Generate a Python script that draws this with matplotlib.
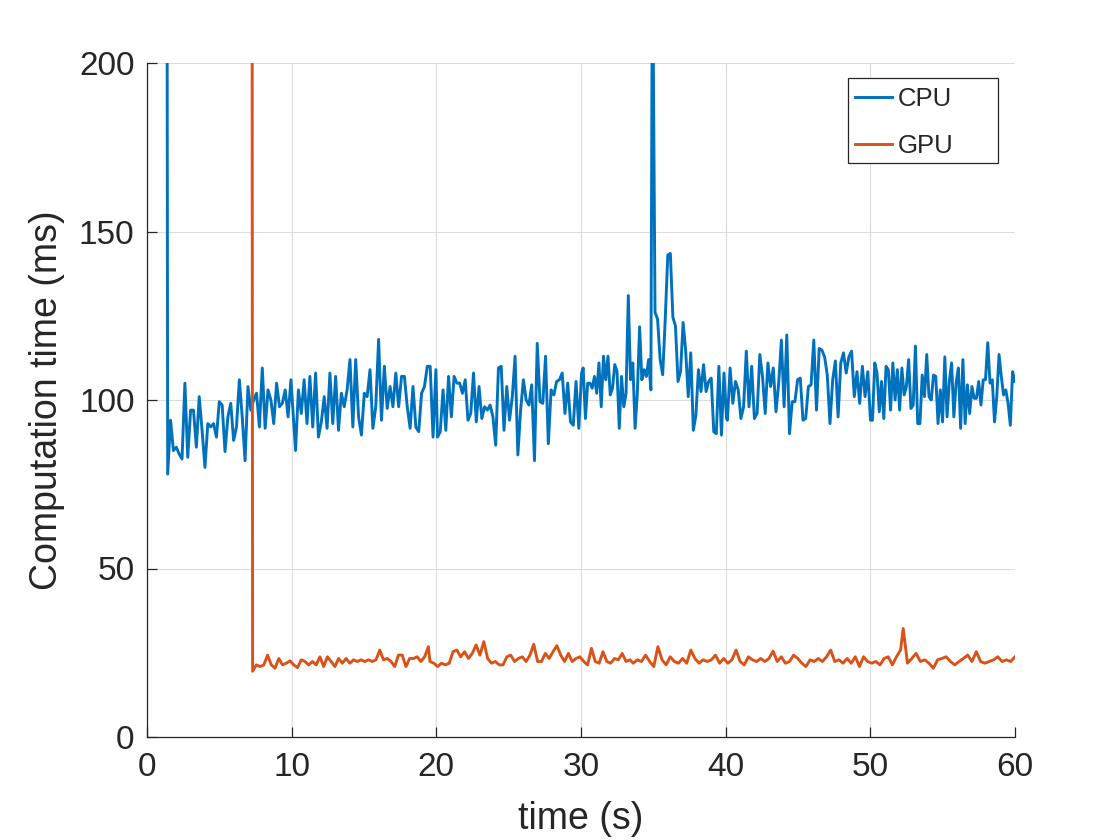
import numpy as np
import matplotlib
matplotlib.use("Agg")
import matplotlib.pyplot as plt
from matplotlib.patches import Rectangle

# ---------------- data ----------------
# CPU computation time (ms), piecewise segments with their time spans (s)
cpu_spike_t = 1.38
cpu_spike_v = 250.0

cpu_a_span = (1.43, 9.95)
cpu_a = [78, 94, 85, 86, 84, 82.5, 105, 83, 97, 97, 86, 101, 91, 80, 93, 92, 93, 89,
         99.5, 98.5, 84.7, 95, 99, 88, 92, 106, 95, 82, 104, 97, 100, 102, 92, 109.5,
         91.6, 103, 100, 93, 105, 98, 99, 103, 95, 106]

cpu_b_span = (10.07, 19.97)
cpu_b = [98, 85, 103, 96, 106, 93, 107, 92, 108, 89, 93.5, 101, 91.6, 108, 93, 107, 91,
         102, 98, 103, 112, 92, 112, 95, 89.6, 102, 101, 109, 91.6, 98, 118, 94, 110,
         97.5, 104, 98, 108, 98, 107, 107, 98, 91.6, 104, 92, 90.6, 102, 104, 110, 110,
         89, 109]

cpu_c_span = (20.08, 30.04)
cpu_c = [89, 90.6, 103, 91, 107, 95, 107, 105, 105, 102, 106, 94, 96, 108, 93.5, 104,
         94.5, 98, 97, 98.5, 95, 86.6, 109.5, 110, 91, 104, 94, 101, 113, 83.7, 97, 106,
         100, 98.5, 104.5, 82, 116.8, 99.5, 99, 113, 87, 103, 101.5, 105.5, 106, 108, 96,
         105, 93.5, 92.5, 105.5, 91.6, 108]

cpu_d1_span = (30.15, 34.83)
cpu_d1 = [109.5, 94.5, 105, 105, 103.5, 107, 102, 111, 98, 113, 106, 113, 101.5, 103.5,
          110.5, 108.5, 91.6, 107, 98, 102, 131, 106, 111, 91.6, 102, 121.7, 106, 109,
          107, 112, 103]

cpu_d2_span = (34.94, 40.06)
cpu_d2 = [240, 126, 124, 112, 107.5, 124, 143, 143.5, 124.5, 122, 105.5, 108.5, 123,
          114.6, 101, 114, 91, 95.5, 109, 102.5, 110.5, 102.5, 105.5, 106.5, 90.6, 90,
          110, 89.6, 108, 94.5]

cpu_e_span = (40.12, 50.01)
cpu_e = [94, 109.5, 99, 105.5, 103, 94.5, 98, 114.5, 98, 110, 94.5, 96, 113.5, 107, 96,
         111, 104, 109.5, 96.5, 105, 117.8, 98, 119.3, 90, 99.5, 99.5, 106, 106.5, 94,
         94.5, 104, 104.5, 117.8, 97, 115.3, 114.8, 112.8, 107.4, 93, 106, 111.6, 95,
         111, 114, 108, 112.8, 114.5, 101, 108.4, 99, 110, 101, 108.4, 94]

cpu_f_span = (50.15, 59.99)
cpu_f = [94, 111, 108, 96.5, 105.5, 94.5, 110, 109, 97, 111, 100, 109, 97, 109.5, 101.5,
         104, 112, 97.5, 98.5, 116, 93, 93, 107.4, 101, 113.5, 101, 100, 107.4, 107, 93,
         103, 93.5, 112.8, 95, 105.5, 111, 95, 105, 109.5, 91.6, 112, 93, 104.5, 96, 104,
         100.5, 100.5, 105.5, 98.5, 106, 106, 117, 105, 106, 93.5, 101, 113.5, 107, 101.5,
         103, 99, 92.5, 108.4, 105.5]

# GPU computation time (ms)
gpu_spike_t = 7.26
gpu_spike_v = 250.0

gpu_a_span = (7.3, 19.45)
gpu_a = [19.5, 21.4, 20.9, 21.4, 24.3, 21.4, 20.4, 23.3, 21.4, 21.9, 22.6, 21.4, 20.6,
         22.9, 22.4, 21.4, 22.4, 21.4, 23.8, 20.9, 23.8, 22.4, 20.9, 23.3, 21.9, 23.3,
         21.9, 22.9, 22.4, 22.9, 22.4, 22.9, 22.4, 22.9, 25.8, 22.9, 23.3, 22.4, 20.9,
         24.3, 24.3, 20.9, 23.3, 23.3, 23.8, 22.4, 23.8, 26.8]

gpu_b_span = (19.56, 33.38)
gpu_b = [22.4, 21.9, 20.9, 21.9, 21.4, 21.9, 25.3, 25.8, 23.8, 25.3, 23.3, 24.8, 27.3,
         24.3, 28.3, 23.3, 21.9, 22.4, 21.4, 21.4, 23.8, 24.3, 22.4, 23.3, 23.8, 22.4,
         24.3, 27.5, 22.4, 22.4, 24.8, 23.3, 25.3, 27.1, 24.3, 22.4, 24.8, 22.4, 23.3,
         23.8, 22.4, 21.4, 26.3, 22.4, 21.9, 25.3, 22.4, 21.9, 23.3, 22.9, 24.8, 22.4, 22.9]

gpu_c_span = (33.61, 52.09)
gpu_c = [21.9, 22.9, 22.4, 24.3, 22.4, 20.9, 26.8, 22.9, 21.4, 23.8, 22.4, 21.9, 23.3,
         21.9, 25.8, 23.3, 21.9, 22.9, 22.4, 22.9, 24.3, 21.9, 23.3, 21.9, 22.9, 25.8,
         22.4, 21.4, 23.8, 22.9, 22.4, 23.3, 22.4, 23.3, 25.5, 22.4, 23.8, 21.9, 22.4,
         24.3, 23.3, 21.9, 20.9, 22.9, 22.4, 23.3, 22.4, 23.8, 25.8, 22.4, 22.9, 21.9,
         23.3, 21.9, 23.8, 20.9, 23.8, 22.4, 21.9, 22.4, 21.4, 23.3, 23.8, 21.4, 23.8, 25.8]

gpu_d_span = (52.27, 60.0)
gpu_d = [32.2, 21.9, 23.3, 24.8, 22.4, 22.9, 21.9, 20.4, 22.9, 23.3, 23.8, 22.4, 21.4,
         22.4, 23.3, 24.3, 22.4, 25.3, 22.4, 21.9, 22.4, 22.9, 23.8, 22.4, 22.9, 22.4, 23.8]

x_ticks = [0, 10, 20, 30, 40, 50, 60]
y_ticks = [0, 50, 100, 150, 200]
x_label = "time (s)"
y_label = "Computation time (ms)"
series_names = ["CPU", "GPU"]


def build(spike_t, spike_v, segments):
    ts = [np.array([spike_t])]
    vs = [np.array([spike_v])]
    for (t0, t1), vals in segments:
        ts.append(np.linspace(t0, t1, len(vals)))
        vs.append(np.asarray(vals, dtype=float))
    return np.concatenate(ts), np.concatenate(vs)


cpu_t, cpu_v = build(cpu_spike_t, cpu_spike_v, [
    (cpu_a_span, cpu_a), (cpu_b_span, cpu_b), (cpu_c_span, cpu_c),
    (cpu_d1_span, cpu_d1), (cpu_d2_span, cpu_d2), (cpu_e_span, cpu_e),
    (cpu_f_span, cpu_f)])
gpu_t, gpu_v = build(gpu_spike_t, gpu_spike_v, [
    (gpu_a_span, gpu_a), (gpu_b_span, gpu_b), (gpu_c_span, gpu_c),
    (gpu_d_span, gpu_d)])

# ---------------- plot ----------------
plt.rcParams['font.family'] = ['Liberation Sans', 'DejaVu Sans']
axis_color = '#262626'

fig = plt.figure(figsize=(11.2, 8.4), dpi=100)
ax = fig.add_axes([147 / 1120, 103 / 840, 868 / 1120, 674 / 840])

ax.plot(cpu_t, cpu_v, color='#0072BD', lw=2.1, label=series_names[0], zorder=3)
ax.plot(gpu_t, gpu_v, color='#D95319', lw=2.1, label=series_names[1], zorder=3)

ax.set_xlim(0, 60)
ax.set_ylim(0, 200)
ax.set_xticks(x_ticks)
ax.set_yticks(y_ticks)
ax.grid(True, color='#dcdcdc', lw=0.8, zorder=0)
ax.set_axisbelow(True)

for s in ['top', 'right']:
    ax.spines[s].set_visible(False)
for s in ['left', 'bottom']:
    ax.spines[s].set_color(axis_color)
    ax.spines[s].set_linewidth(0.9)

ax.tick_params(direction='in', length=7, width=0.9, colors=axis_color,
               labelsize=24)
ax.tick_params(axis='x', pad=11)
ax.tick_params(axis='y', pad=9)
ax.set_xlabel(x_label, fontsize=27, color=axis_color, labelpad=13)
ax.set_ylabel(y_label, fontsize=27, color=axis_color, labelpad=10)

# legend: frame drawn at the reference box, entries placed inside it
frame = Rectangle((848 / 1120, 1 - 163 / 840), 150 / 1120, 85 / 840,
                  transform=fig.transFigure, facecolor='white',
                  edgecolor=axis_color, lw=0.9, zorder=10, clip_on=False)
ax.add_artist(frame)
leg = ax.legend(loc='upper left', bbox_to_anchor=(855 / 1120, 1 - 87 / 840),
                bbox_transform=fig.transFigure, borderaxespad=0, borderpad=0,
                frameon=False, fontsize=18.5, handlelength=1.45,
                handletextpad=0.22, labelspacing=0.88)
leg.set_zorder(11)
for t in leg.get_texts():
    t.set_color(axis_color)

fig.savefig('out.png', dpi=100)
